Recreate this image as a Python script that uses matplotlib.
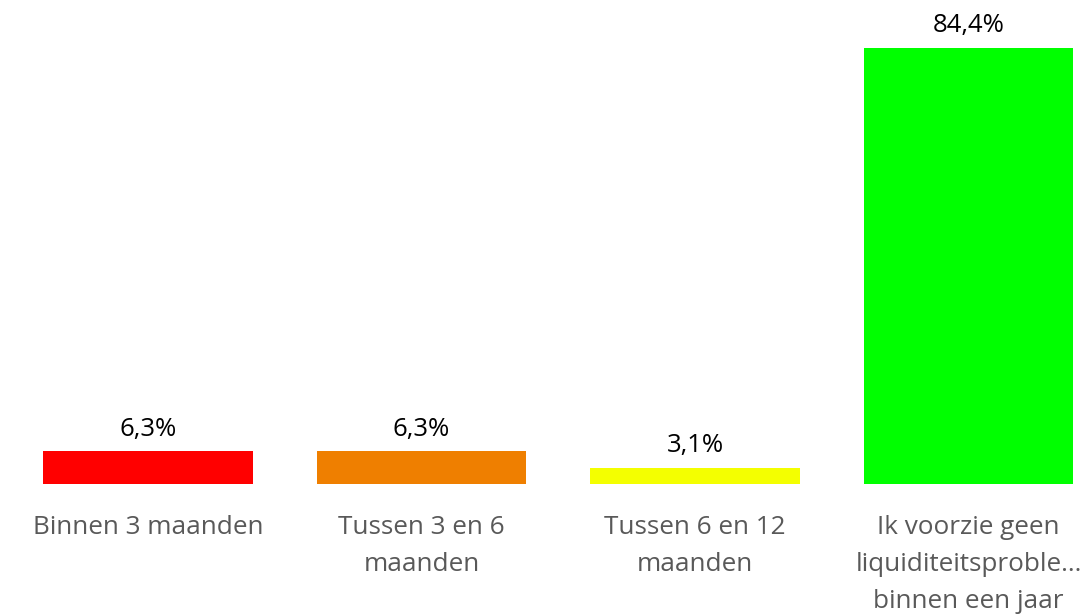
import matplotlib

matplotlib.use("Agg")
import matplotlib.pyplot as plt

categories = [
    "Binnen 3 maanden",
    "Tussen 3 en 6\nmaanden",
    "Tussen 6 en 12\nmaanden",
    "Ik voorzie geen\nliquiditeitsproble…\nbinnen een jaar",
]
values = [6.3, 6.3, 3.1, 84.4]
value_labels = ["6,3%", "6,3%", "3,1%", "84,4%"]
colors = ["#FF0000", "#EF7F00", "#F4FF00", "#00FF00"]

plt.rcParams["font.family"] = ["Open Sans", "DejaVu Sans"]

fig = plt.figure(figsize=(10.87, 6.15), dpi=100)
ax = fig.add_axes([0, 0.213, 1, 0.787])

x = list(range(len(values)))
ax.bar(x, values, width=0.767, color=colors)
ax.set_xlim(-0.541, 3.433)
ax.set_ylim(0, 93.69)

for xi, v, lab in zip(x, values, value_labels):
    ax.annotate(lab, (xi, v), xytext=(0, 7), textcoords="offset points",
                ha="center", va="bottom", fontsize=18.5, color="#000000")

for xi, cat in zip(x, categories):
    ax.annotate(cat, (xi, 0), xycoords=("data", "axes fraction"),
                xytext=(0, -22), textcoords="offset points",
                ha="center", va="top", fontsize=18.8, color="#595959",
                linespacing=1.65)

ax.axis("off")
fig.savefig("out.png", dpi=100)
